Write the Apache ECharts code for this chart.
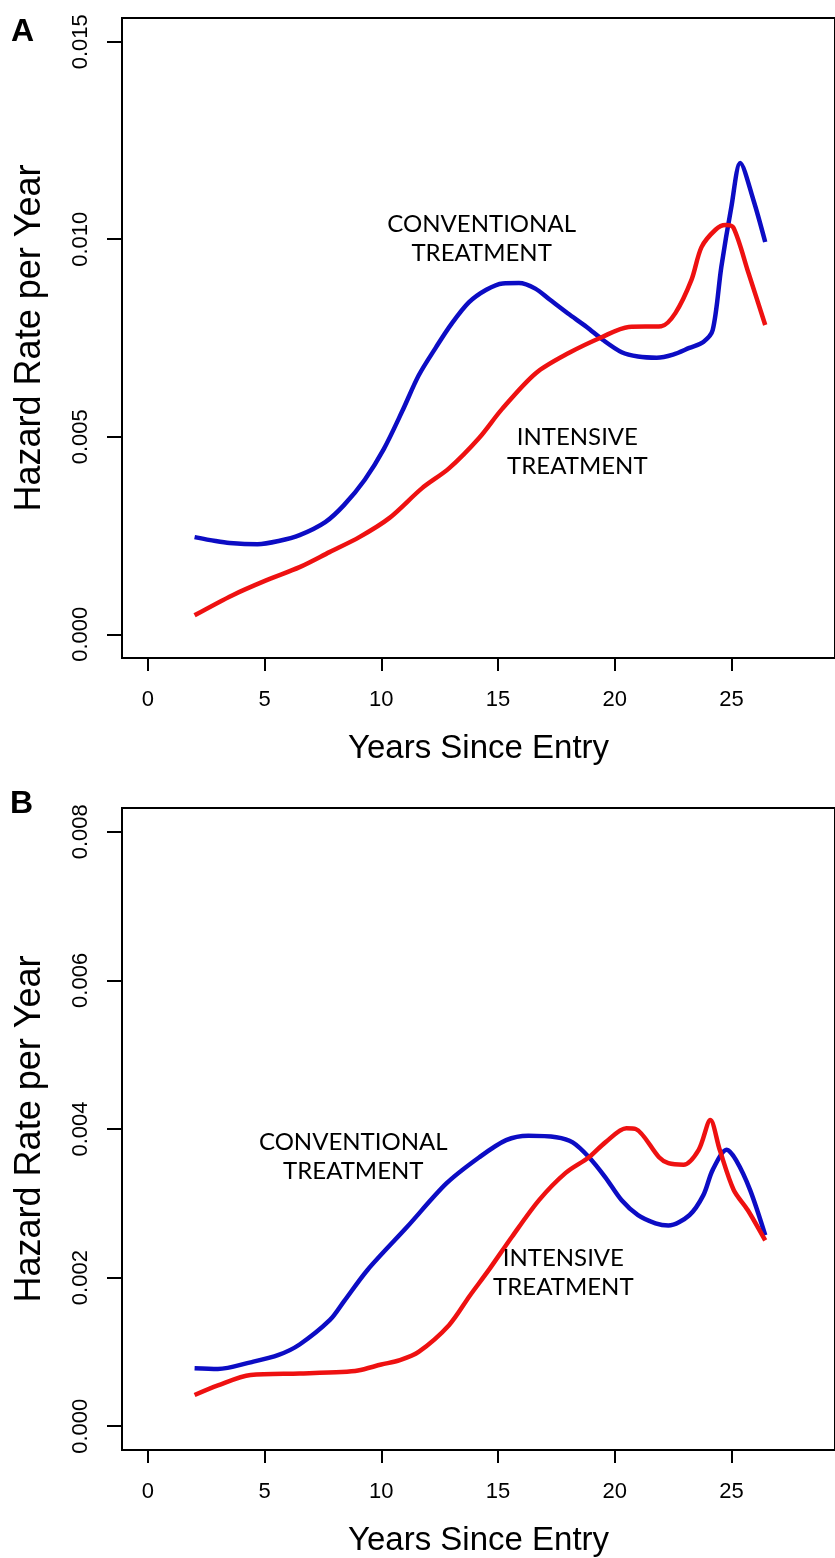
<!DOCTYPE html>
<html>
<head>
<meta charset="utf-8">
<script src="https://cdn.jsdelivr.net/npm/echarts@6/dist/echarts.min.js"></script>
<style>
  html, body { margin: 0; padding: 0; background: #fff; }
  #chart { width: 835px; height: 1558px; }
</style>
</head>
<body>
<div id="chart"></div>
<script>
/* Hazard rate curves, conventional vs intensive treatment — two stacked panels (A, B) */

// ---- panel A ----
const A_CONV_YEARS = [2.0, 2.9, 3.5, 4.7, 5.6, 6.5, 7.6, 8.4, 9.3, 10.1, 10.9, 11.6, 12.35, 13.0, 13.75, 14.5, 15.2, 15.9, 16.6, 17.2, 18.0, 18.8, 19.5, 20.3, 21.0, 21.8, 22.5, 23.2, 23.8, 24.2, 24.57, 25.0, 25.38, 25.94, 26.45];
const A_CONV_HAZ   = [0.00246, 0.00236, 0.00231, 0.00228, 0.00236, 0.00251, 0.00284, 0.00327, 0.00392, 0.00468, 0.00565, 0.00655, 0.00727, 0.00785, 0.00840, 0.00872, 0.00888, 0.00889, 0.00875, 0.00848, 0.00812, 0.00778, 0.00745, 0.00714, 0.00703, 0.00700, 0.00708, 0.00725, 0.00740, 0.00770, 0.00930, 0.01082, 0.01193, 0.01100, 0.00993];

const A_INT_YEARS = [2.0, 3.63, 5.09, 6.5, 7.78, 9.06, 10.34, 11.75, 12.9, 14.19, 15.17, 16.62, 18.03, 19.44, 20.6, 22.0, 22.6, 23.29, 23.72, 24.32, 24.74, 25.09, 25.73, 26.45];
const A_INT_HAZ   = [0.00048, 0.00099, 0.00137, 0.00170, 0.00208, 0.00246, 0.00294, 0.00370, 0.00420, 0.00497, 0.00570, 0.00661, 0.00712, 0.00752, 0.00778, 0.00780, 0.00813, 0.00897, 0.00980, 0.01024, 0.01036, 0.01029, 0.00915, 0.00783];

// ---- panel B ----
const B_CONV_YEARS = [2.0, 3.0, 4.4, 5.6, 6.5, 7.8, 8.4, 9.4, 11.1, 12.8, 14.2, 15.35, 16.3, 17.5, 18.2, 18.9, 19.6, 20.3, 21.0, 21.75, 22.3, 23.2, 23.8, 24.2, 24.8, 25.2, 25.8, 26.45];
const B_CONV_HAZ   = [0.00078, 0.00077, 0.00086, 0.00096, 0.00110, 0.00143, 0.00168, 0.00210, 0.00268, 0.00327, 0.00362, 0.00385, 0.00391, 0.00389, 0.00382, 0.00362, 0.00335, 0.00304, 0.00284, 0.00273, 0.00270, 0.00284, 0.00311, 0.00345, 0.00372, 0.00358, 0.00318, 0.00257];

const B_INT_YEARS = [2.0, 3.0, 4.4, 6.5, 8.3, 9.0, 10.0, 10.8, 11.6, 12.9, 13.8, 14.6, 15.6, 16.75, 17.9, 18.9, 19.6, 20.5, 20.9, 21.9, 22.3, 22.95, 23.6, 24.1, 24.5, 25.1, 25.7, 26.45];
const B_INT_HAZ   = [0.00042, 0.00055, 0.00069, 0.00071, 0.00073, 0.00075, 0.00083, 0.00089, 0.00100, 0.00136, 0.00176, 0.00210, 0.00255, 0.00304, 0.00341, 0.00362, 0.00382, 0.00401, 0.00400, 0.00362, 0.00354, 0.00352, 0.00372, 0.00412, 0.00372, 0.00318, 0.00291, 0.00250];

// ---- ticks / labels ----
const X_TICKS   = [0, 5, 10, 15, 20, 25];
const A_Y_TICKS = [0, 0.005, 0.010, 0.015];
const B_Y_TICKS = [0, 0.002, 0.004, 0.006, 0.008];
const X_TITLE = "Years Since Entry";
const Y_TITLE = "Hazard Rate per Year";
const PANEL_TAGS = ["A", "B"];
// annotation anchors in data coordinates [year, hazard]
const A_CONV_NOTE = [14.3, 0.0100];
const A_INT_NOTE  = [18.4, 0.00461];
const B_CONV_NOTE = [8.8, 0.00362];
const B_INT_NOTE  = [17.8, 0.00206];

const BLUE = "#0c0cc4", RED = "#ee1111", INK = "#000";
const SANS = "'Liberation Sans', Arial, sans-serif";
const NOTE_FONT = "Lato, 'Open Sans', sans-serif";

const zip = (xs, ys) => xs.map((x, i) => [x, ys[i]]);

function xAxis(gridIndex) {
  return {
    type: "value", gridIndex, min: -1.11, max: 29.44,
    name: X_TITLE, nameLocation: "middle", nameGap: 74,
    nameTextStyle: { color: INK, fontFamily: SANS, fontSize: 33 },
    axisLine: { show: false, onZero: false },
    splitLine: { show: false },
    axisTick: { show: true, inside: false, length: 13, customValues: X_TICKS, lineStyle: { color: INK, width: 2 } },
    axisLabel: { color: INK, fontFamily: SANS, fontSize: 22, margin: 31, customValues: X_TICKS },
  };
}

function yAxis(gridIndex, min, max, ticks) {
  return {
    type: "value", gridIndex, min, max,
    name: Y_TITLE, nameLocation: "middle", nameGap: 74, nameRotate: 90,
    nameTextStyle: { color: INK, fontFamily: SANS, fontSize: 36 },
    axisLine: { show: false, onZero: false },
    splitLine: { show: false },
    axisTick: { show: true, inside: false, length: 15, customValues: ticks, lineStyle: { color: INK, width: 2 } },
    axisLabel: { color: INK, fontFamily: SANS, fontSize: 22, rotate: 90, margin: 30,
      customValues: ticks, formatter: (v) => v.toFixed(3) },
  };
}

function note(coord, text) {
  return {
    coord, symbol: "rect", symbolSize: 1, itemStyle: { color: "rgba(0,0,0,0)" },
    label: { show: true, position: "inside", formatter: text, color: INK,
      fontFamily: NOTE_FONT, fontSize: 24, lineHeight: 29, align: "center", verticalAlign: "middle" },
  };
}

function curve(name, idx, data, color, notes) {
  return {
    name, type: "line", xAxisIndex: idx, yAxisIndex: idx,
    data, showSymbol: false, smooth: 0.3, silent: true,
    lineStyle: { color, width: 4.5 },
    markPoint: notes ? { silent: true, data: notes } : undefined,
  };
}

const chart = echarts.init(document.getElementById("chart"), null, { renderer: "canvas" });
chart.setOption({
  animation: false,
  backgroundColor: "#fff",
  grid: [
    { left: 122, top: 18, width: 715, height: 640, show: true, borderColor: INK, borderWidth: 2, backgroundColor: "transparent" },
    { left: 122, top: 808, width: 715, height: 642, show: true, borderColor: INK, borderWidth: 2, backgroundColor: "transparent" },
  ],
  xAxis: [xAxis(0), xAxis(1)],
  yAxis: [yAxis(0, -0.0006, 0.0156, A_Y_TICKS), yAxis(1, -0.00032, 0.00832, B_Y_TICKS)],
  series: [
    curve("A conventional", 0, zip(A_CONV_YEARS, A_CONV_HAZ), BLUE,
      [note(A_CONV_NOTE, "CONVENTIONAL\nTREATMENT"), note(A_INT_NOTE, "INTENSIVE\nTREATMENT")]),
    curve("A intensive", 0, zip(A_INT_YEARS, A_INT_HAZ), RED),
    curve("B conventional", 1, zip(B_CONV_YEARS, B_CONV_HAZ), BLUE,
      [note(B_CONV_NOTE, "CONVENTIONAL\nTREATMENT"), note(B_INT_NOTE, "INTENSIVE\nTREATMENT")]),
    curve("B intensive", 1, zip(B_INT_YEARS, B_INT_HAZ), RED),
  ],
  graphic: [
    { type: "text", left: 11, top: 16, style: { text: PANEL_TAGS[0], fill: INK, fontFamily: SANS, fontWeight: "bold", fontSize: 32 } },
    { type: "text", left: 10, top: 788, style: { text: PANEL_TAGS[1], fill: INK, fontFamily: SANS, fontWeight: "bold", fontSize: 32 } },
  ],
});
</script>
</body>
</html>
